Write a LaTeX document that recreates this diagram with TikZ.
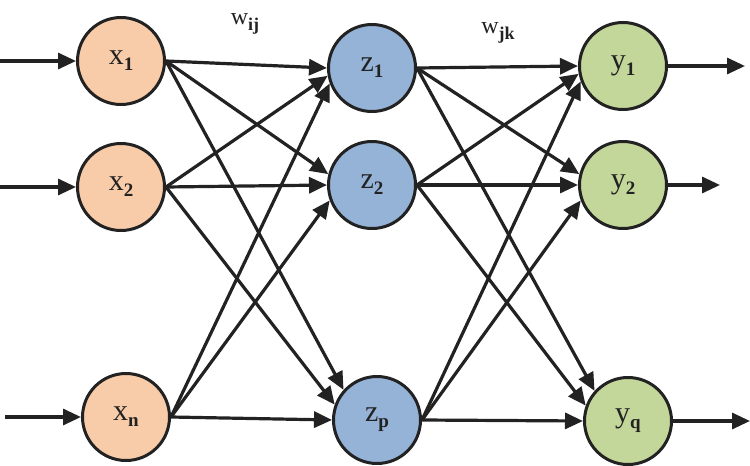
\documentclass[tikz,border=0pt]{standalone}
\usepackage{fontspec}
\setmainfont{Liberation Serif}
\usetikzlibrary{arrows.meta}
\definecolor{inC}{HTML}{F8CBA9}
\definecolor{hidC}{HTML}{95B3D7}
\definecolor{outC}{HTML}{C4D79B}
\definecolor{ink}{HTML}{222222}
\newcommand{\nlab}[2]{\fontsize{30}{30}\selectfont #1\raisebox{-6pt}{\fontsize{19}{19}\selectfont\bfseries #2}}
\newcommand{\wlab}[2]{\fontsize{24}{24}\selectfont #1\raisebox{-6pt}{\fontsize{18}{18}\selectfont\bfseries #2}}
\tikzset{
  neuron/.style={circle, draw=ink, line width=3pt, minimum size=87pt, inner sep=0pt, text=ink},
  conn/.style={draw=ink, line width=3.2pt, -{Triangle[length=18pt,width=16pt]}},
}
\begin{document}
\begin{tikzpicture}[x=1pt,y=-1pt]
\useasboundingbox (0,0) rectangle (750,466);
% input layer
\node[neuron, fill=inC] (x1) at (121,61) {\nlab{x}{1}};
\node[neuron, fill=inC] (x2) at (121,187) {\nlab{x}{2}};
\node[neuron, fill=inC] (xn) at (126,417) {\nlab{x}{n}};
% hidden layer
\node[neuron, fill=hidC] (z1) at (372,68) {\nlab{z}{1}};
\node[neuron, fill=hidC] (z2) at (372,185) {\nlab{z}{2}};
\node[neuron, fill=hidC] (zp) at (377,420) {\nlab{z}{p}};
% output layer
\node[neuron, fill=outC] (y1) at (623,66) {\nlab{y}{1}};
\node[neuron, fill=outC] (y2) at (623,185) {\nlab{y}{2}};
\node[neuron, fill=outC] (yq) at (628,421) {\nlab{y}{q}};
% weight labels
\node[text=ink] (wij) at (245,24) {\wlab{w}{ij}};
\node[text=ink] (wjk) at (498,33) {\wlab{w}{jk}};
% input / output free ends
\coordinate (i1) at (0,61);
\coordinate (i2) at (0,187);
\coordinate (in) at (5,417);
\coordinate (o1) at (745,66);
\coordinate (o2) at (720,185);
\coordinate (oq) at (750,421);
\draw[conn] (i1) -- (x1.west);
\draw[conn] (i2) -- (x2.west);
\draw[conn] (in) -- (xn.west);
\draw[conn] (y1.east) -- (o1);
\draw[conn] (y2.east) -- (o2);
\draw[conn] (yq.east) -- (oq);
% connections: source / target / border angle at target
\foreach \s/\t/\a in {x1/z1/180, x2/z1/190, xn/z1/200,
                      x1/z2/166, x2/z2/180, xn/z2/200,
                      x1/zp/138, x2/zp/160, xn/zp/180,
                      z1/y1/180, z2/y1/190, zp/y1/200,
                      z1/y2/166, z2/y2/180, zp/y2/200,
                      z1/yq/138, z2/yq/160, zp/yq/180}{
  \draw[conn] (\s.east) -- (\t.\a);
}
\end{tikzpicture}
\end{document}
